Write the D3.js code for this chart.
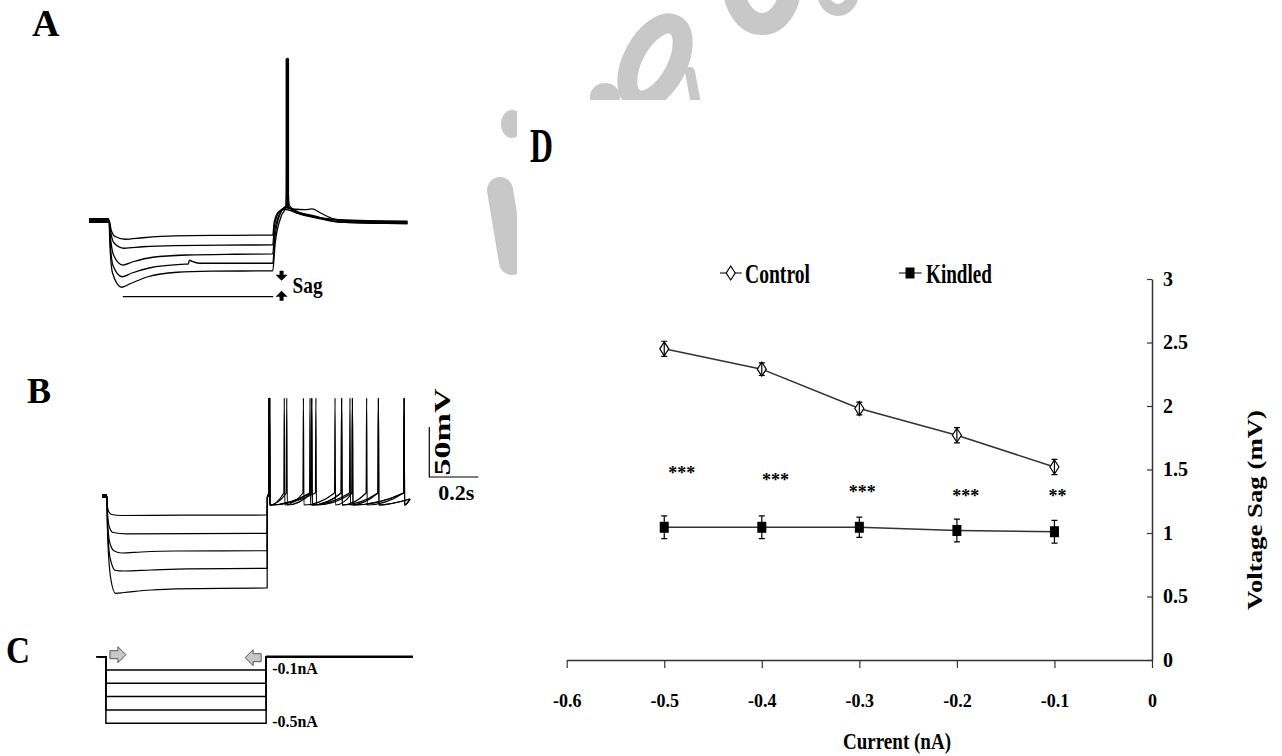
<!DOCTYPE html>
<html>
<head>
<meta charset="utf-8">
<script src="https://cdn.jsdelivr.net/npm/d3@7"></script>
<style>
  body { margin: 0; background: #fff; }
  svg { display: block; }
  text { font-family: "Liberation Serif", "Times New Roman", serif; font-weight: bold; }
</style>
</head>
<body>
<div id="fig"></div>
<script>
// ---- panel D: voltage sag vs injected current ----
const currents = [-0.5, -0.4, -0.3, -0.2, -0.1];
const controlSag = [2.45, 2.29, 1.98, 1.77, 1.52];
const controlErr = [0.06, 0.05, 0.05, 0.06, 0.06];
const kindledSag = [1.045, 1.045, 1.045, 1.02, 1.01];
const kindledErr = [0.09, 0.09, 0.08, 0.09, 0.09];
const sigLabels = ["***", "***", "***", "***", "**"];
const sigX = [-0.482, -0.386, -0.297, -0.191, -0.097];
const sigY = [1.50, 1.45, 1.35, 1.32, 1.32];
const xTicks = [-0.6, -0.5, -0.4, -0.3, -0.2, -0.1, 0];
const xTickLabels = ["-0.6", "-0.5", "-0.4", "-0.3", "-0.2", "-0.1", "0"];
const yTicks = [0, 0.5, 1, 1.5, 2, 2.5, 3];
const yTickLabels = ["0", "0.5", "1", "1.5", "2", "2.5", "3"];

// ---- panel A: sag traces, [time ms, membrane potential mV] ----
const restA = -65;
const stepOnA = 82;
const sagTracesA = [
  [[0,-65],[82,-65],[90,-71],[105,-75.5],[147,-77.5],[220,-76.5],[350,-75.3],[550,-74.9],[750,-74.7],
   [756,-66],[775,-59],[800,-57.5],[840,-59.5],[920,-62.5],[1020,-64.5],[1300,-65.5]],
  [[0,-65],[82,-65],[88,-72],[102,-80],[143,-83.5],[220,-82.5],[350,-81.7],[550,-81.4],[750,-81.3],
   [757,-68],[778,-59],[805,-56.5],[845,-59],[930,-63],[1030,-65],[1300,-66]],
  [[0,-65],[82,-65],[87,-75],[100,-88],[138,-94.7],[180,-92.5],[260,-89.5],[400,-88],[600,-87.5],[750,-87.3],
   [758,-72],[780,-60],[805,-56],[840,-57.5],[880,-57.8],[910,-57.3],[945,-60],[1000,-64],[1100,-66],[1300,-66.5]],
  [[0,-65],[82,-65],[86,-78],[98,-95],[135,-102.5],[175,-100],[250,-96.5],[380,-94.2],[405,-94],[410,-91.5],
   [420,-92.2],[450,-93.5],[600,-93.5],[750,-93.5],
   [759,-76],[782,-60],[808,-55.5],[835,-59],[920,-63],[1020,-66],[1300,-67]],
  [[0,-65],[82,-65],[85,-80],[96,-100],[133,-109.5],[170,-107],[240,-102.5],[360,-99.5],[500,-98.8],[750,-98.5],
   [760,-80],[785,-62],[803,-56],[806,-45],[808,43],[811,43],[813,-45],[818,-55],[845,-58.5],[920,-62],[1020,-66],[1300,-67]]
];
const spikeTimeA = 809.5;
const spikePeakA = 43;
const sagLevelA = -115.8;
const sagSpanA = [138, 752];
const sagMarkTimeA = 786;

// ---- panel B: hyperpolarising steps then rebound firing ----
const restB = -65;
const stepOnB = 20;
const stepOffB = 674;
const endB = 1257;
const hyperTracesB = [
  [[0,-65],[20,-65],[22,-75],[28,-81],[40,-83.5],[80,-84.5],[200,-84.3],[674,-84]],
  [[0,-65],[20,-65],[22,-80],[30,-96],[45,-101.5],[100,-102.8],[674,-102.3]],
  [[0,-65],[20,-65],[22,-88],[32,-112],[50,-120],[80,-122],[160,-121],[300,-120],[674,-119.7]],
  [[0,-65],[20,-65],[22,-95],[34,-128],[55,-139.5],[90,-140],[200,-139],[350,-137.8],[674,-137.3]],
  [[0,-65],[20,-65],[23,-105],[36,-148],[55,-162.3],[90,-161.5],[200,-159],[300,-157.8],[674,-157]]
];
const spikeTimesB = [
  [683, 754, 856, 978, 1080, 1233],
  [683, 744, 822, 951, 1022, 1233],
  [683, 849, 1012, 1128],
  [683, 873, 1022, 1233],
  [683, 856, 978, 1128]
];
const spikePeakB = 33;
const thresholdB = -62;
const ahpB = -74;

// ---- panel C: injected current steps (nA) ----
const stepAmps = [-0.1, -0.2, -0.3, -0.4, -0.5];
const startC = -18;
const stepOnC = 20;
const stepOffC = 674;
const endC = 1273;

const W = 1282, H = 756;
const black = "#000";
const serif = '"Liberation Serif", "Times New Roman", serif';

const svg = d3.select("#fig").append("svg")
  .attr("width", W).attr("height", H);
svg.append("rect").attr("width", W).attr("height", H).attr("fill", "#fff");

// watermark remnants peeking between panels
const defs = svg.append("defs");
const clip = defs.append("clipPath").attr("id", "wmclip");
clip.append("rect").attr("x", 487).attr("y", 0).attr("width", 30).attr("height", H);
clip.append("rect").attr("x", 517).attr("y", 0).attr("width", W - 517).attr("height", 100);
const wm = svg.append("g").attr("clip-path", "url(#wmclip)");
const wmGray = "#c8c8c8";
wm.append("ellipse").attr("cx", 512).attr("cy", 124).attr("rx", 11).attr("ry", 14).attr("fill", wmGray);
wm.append("line").attr("x1", 500).attr("y1", 190).attr("x2", 512).attr("y2", 262)
  .attr("stroke", wmGray).attr("stroke-width", 26).attr("stroke-linecap", "round");
wm.append("ellipse").attr("cx", 605).attr("cy", 97).attr("rx", 15).attr("ry", 14).attr("fill", wmGray);
wm.append("ellipse").attr("cx", 655).attr("cy", 62).attr("rx", 22).attr("ry", 42)
  .attr("transform", "rotate(28,655,62)")
  .attr("fill", "none").attr("stroke", wmGray).attr("stroke-width", 20);
wm.append("line").attr("x1", 690).attr("y1", 72).attr("x2", 696).attr("y2", 104)
  .attr("stroke", wmGray).attr("stroke-width", 10).attr("stroke-linecap", "round");
wm.append("ellipse").attr("cx", 762).attr("cy", -14).attr("rx", 28).attr("ry", 38)
  .attr("fill", "none").attr("stroke", wmGray).attr("stroke-width", 22);
wm.append("ellipse").attr("cx", 838).attr("cy", -8).attr("rx", 15).attr("ry", 18)
  .attr("fill", "none").attr("stroke", wmGray).attr("stroke-width", 12);

// panel letters
function panelLetter(txt, x, y, size, len) {
  const t = svg.append("text").attr("x", x).attr("y", y)
    .attr("font-size", size).attr("fill", black).text(txt);
  if (len) t.attr("textLength", len).attr("lengthAdjust", "spacingAndGlyphs");
}
panelLetter("A", 32, 36, 38);
panelLetter("B", 27, 403, 36);
panelLetter("C", 6, 663, 38, 24);
panelLetter("D", 530, 162, 48, 23);

// ================= panel A =================
const xA = d3.scaleLinear().domain([0, 1300]).range([89, 407.5]);
const yA = d3.scaleLinear().domain([-65, 43]).range([220.5, 58.5]);
const gA = svg.append("g");
const lineA = d3.line().x(d => xA(d[0])).y(d => yA(d[1])).curve(d3.curveMonotoneX);

gA.append("path")
  .attr("d", d3.line()([[xA(0), yA(restA)], [xA(stepOnA), yA(restA)]]))
  .attr("stroke", black).attr("stroke-width", 5);

gA.selectAll("path.trace")
  .data(sagTracesA)
  .join("path")
  .attr("class", "trace")
  .attr("d", lineA)
  .attr("fill", "none")
  .attr("stroke", black)
  .attr("stroke-width", 1.3);

// rebound spike drawn heavy, as in the overlaid recordings
gA.append("line")
  .attr("x1", xA(spikeTimeA)).attr("x2", xA(spikeTimeA))
  .attr("y1", yA(spikePeakA)).attr("y2", yA(-56))
  .attr("stroke", black).attr("stroke-width", 3.5);

// sag reference line and arrows
gA.append("line")
  .attr("x1", xA(sagSpanA[0])).attr("x2", xA(sagSpanA[1]))
  .attr("y1", yA(sagLevelA)).attr("y2", yA(sagLevelA))
  .attr("stroke", black).attr("stroke-width", 1.2);
const ax = xA(sagMarkTimeA);
const topDown = yA(sagTracesA[4][9][1]);
gA.append("path")
  .attr("d", `M${ax - 2},${topDown} V${topDown + 4} H${ax - 6} L${ax},${topDown + 10} L${ax + 6},${topDown + 4} H${ax + 2} V${topDown} Z`)
  .attr("fill", black);
const botUp = yA(sagLevelA) + 4;
gA.append("path")
  .attr("d", `M${ax - 2},${botUp} V${botUp - 4} H${ax - 6} L${ax},${botUp - 10} L${ax + 6},${botUp - 4} H${ax + 2} V${botUp} Z`)
  .attr("fill", black);
gA.append("text").attr("x", ax + 11).attr("y", 293)
  .attr("font-size", 23).attr("textLength", 30).attr("lengthAdjust", "spacingAndGlyphs")
  .text("Sag");

// ================= panel B =================
const xB = d3.scaleLinear().domain([0, endB]).range([102, 410]);
const yB = d3.scaleLinear().domain([-65, 33]).range([496, 398]);
const gB = svg.append("g");

gB.append("path")
  .attr("d", d3.line()([[xB(0), yB(restB)], [xB(stepOnB), yB(restB)]]))
  .attr("stroke", black).attr("stroke-width", 4);

// hyperpolarised segment + rebound segment built from spike times
const tracesB = hyperTracesB.map((seg, i) => {
  const pts = seg.slice();
  pts.push([stepOffB + 1, -66]);
  let prev = stepOffB + 1;
  spikeTimesB[i].forEach(s => {
    if (s - 2 > prev) pts.push([s - 2, thresholdB]);
    pts.push([s, spikePeakB]);
    pts.push([s + 2, ahpB]);
    prev = s + 2;
  });
  pts.push([endB, -68]);
  return pts;
});

gB.selectAll("path.trace")
  .data(tracesB)
  .join("path")
  .attr("class", "trace")
  .attr("d", d => d3.line().x(p => xB(p[0])).y(p => yB(p[1])).curve(d3.curveMonotoneX)(d))
  .attr("fill", "none")
  .attr("stroke", black)
  .attr("stroke-width", 1.2);

// first rebound spike is shared by all traces -> thick
gB.append("line")
  .attr("x1", xB(spikeTimesB[0][0])).attr("x2", xB(spikeTimesB[0][0]))
  .attr("y1", yB(spikePeakB)).attr("y2", yB(-66))
  .attr("stroke", black).attr("stroke-width", 2.5);

// scale bar: 50 mV / 0.2 s
const sbX = 429.3, sbY = 477;
const sbH = yB(restB) - yB(restB + 50);
const sbW = xB(200) - xB(0);
gB.append("path")
  .attr("d", `M${sbX},${sbY - sbH} V${sbY} H${sbX + sbW}`)
  .attr("fill", "none").attr("stroke", black).attr("stroke-width", 1.2);
gB.append("text")
  .attr("transform", `translate(${sbX + 21},${sbY - 45}) rotate(-90)`)
  .attr("text-anchor", "middle")
  .attr("font-size", 24).attr("textLength", 87).attr("lengthAdjust", "spacingAndGlyphs")
  .text("50mV");
gB.append("text").attr("x", sbX + 9).attr("y", 500)
  .attr("font-size", 22).text("0.2s");

// ================= panel C =================
const xC = d3.scaleLinear().domain([startC, endC]).range([96.6, 412.9]);
const yC = d3.scaleLinear().domain([0, -0.5]).range([656.7, 723.2]);
const gC = svg.append("g");
const tracesC = stepAmps.map(a => [[startC, 0], [stepOnC, 0], [stepOnC, a], [stepOffC, a], [stepOffC, 0], [endC, 0]]);
gC.selectAll("path.trace")
  .data(tracesC)
  .join("path")
  .attr("class", "trace")
  .attr("d", d3.line().x(d => xC(d[0])).y(d => yC(d[1])))
  .attr("fill", "none")
  .attr("stroke", black)
  .attr("stroke-width", 1.5);
gC.append("line")
  .attr("x1", xC(stepOffC)).attr("x2", xC(endC))
  .attr("y1", yC(0)).attr("y2", yC(0))
  .attr("stroke", black).attr("stroke-width", 2.5);

// gray block arrows marking step on / off
const arrowPath = "M0,-4 H8 V-8 L16,0 L8,8 V4 H0 Z";
gC.append("path").attr("d", arrowPath)
  .attr("transform", `translate(${xC(stepOnC) + 4},${yC(0) - 2})`)
  .attr("fill", "#c8c8c8").attr("stroke", "#555").attr("stroke-width", 1);
gC.append("path").attr("d", arrowPath)
  .attr("transform", `translate(${xC(stepOffC) - 5},${yC(0) + 1}) scale(-1,1)`)
  .attr("fill", "#c8c8c8").attr("stroke", "#555").attr("stroke-width", 1);

gC.append("text").attr("x", xC(stepOffC) + 6).attr("y", yC(stepAmps[0]) + 4)
  .attr("font-size", 16).text("-0.1nA");
gC.append("text").attr("x", xC(stepOffC) + 6).attr("y", yC(stepAmps[4]) + 4)
  .attr("font-size", 16).text("-0.5nA");

// ================= panel D =================
const xD = d3.scaleLinear().domain([-0.6, 0]).range([566.7, 1152]);
const yD = d3.scaleLinear().domain([0, 3]).range([660, 279]);
const gD = svg.append("g");
const axisColor = "#333";

gD.append("g")
  .attr("transform", `translate(0,${yD(0)})`)
  .call(d3.axisBottom(xD).tickValues(xTicks).tickFormat((d, i) => xTickLabels[i])
    .tickSizeInner(8).tickSizeOuter(0).tickPadding(26))
  .call(g => {
    g.attr("font-family", serif).attr("font-size", 18).attr("font-weight", "bold");
    g.select(".domain").attr("stroke", axisColor).attr("stroke-width", 1.5);
    g.selectAll(".tick line").attr("stroke", axisColor).attr("stroke-width", 1.2);
    g.selectAll(".tick text").attr("fill", black);
  });

gD.append("g")
  .attr("transform", `translate(${xD(0)},0)`)
  .call(d3.axisRight(yD).tickValues(yTicks).tickFormat((d, i) => yTickLabels[i])
    .tickSizeInner(-5).tickSizeOuter(0).tickPadding(11))
  .call(g => {
    g.attr("font-family", serif).attr("font-size", 20).attr("font-weight", "bold");
    g.select(".domain").attr("stroke", axisColor).attr("stroke-width", 1.5);
    g.selectAll(".tick line").attr("stroke", axisColor).attr("stroke-width", 1.2);
    g.selectAll(".tick text").attr("fill", black);
  });

// axis titles
gD.append("text")
  .attr("x", 843).attr("y", 749)
  .attr("font-size", 24).attr("textLength", 108).attr("lengthAdjust", "spacingAndGlyphs")
  .text("Current (nA)");
gD.append("text")
  .attr("transform", "translate(1262,510) rotate(-90)")
  .attr("text-anchor", "middle")
  .attr("font-size", 22).attr("textLength", 200).attr("lengthAdjust", "spacingAndGlyphs")
  .text("Voltage Sag (mV)");

const lineD = d3.line().x((d, i) => xD(currents[i])).y(d => yD(d));
gD.append("path").attr("d", lineD(kindledSag))
  .attr("fill", "none").attr("stroke", "#333").attr("stroke-width", 1.5);
gD.append("path").attr("d", lineD(controlSag))
  .attr("fill", "none").attr("stroke", "#333").attr("stroke-width", 1.5);

const diamond = "M0,-7 L4.5,0 L0,7 L-4.5,0 Z";
gD.selectAll("path.ctl")
  .data(controlSag)
  .join("path")
  .attr("class", "ctl")
  .attr("d", diamond)
  .attr("transform", (d, i) => `translate(${xD(currents[i])},${yD(d)})`)
  .attr("fill", "#fff").attr("stroke", black).attr("stroke-width", 1.2);

gD.selectAll("rect.kin")
  .data(kindledSag)
  .join("rect")
  .attr("class", "kin")
  .attr("x", (d, i) => xD(currents[i]) - 4.5)
  .attr("y", d => yD(d) - 5.5)
  .attr("width", 9).attr("height", 11)
  .attr("fill", black);

function errorBars(vals, errs, cls) {
  const g = gD.append("g").attr("stroke", black).attr("stroke-width", 1.2).attr("fill", "none");
  g.selectAll("path." + cls)
    .data(vals)
    .join("path")
    .attr("class", cls)
    .attr("d", (d, i) => {
      const x = xD(currents[i]);
      const y0 = yD(d - errs[i]), y1 = yD(d + errs[i]);
      return `M${x},${y0} V${y1} M${x - 3},${y0} H${x + 3} M${x - 3},${y1} H${x + 3}`;
    });
}
errorBars(controlSag, controlErr, "ectl");
errorBars(kindledSag, kindledErr, "ekin");

gD.selectAll("text.sig")
  .data(sigLabels)
  .join("text")
  .attr("class", "sig")
  .attr("x", (d, i) => xD(sigX[i]))
  .attr("y", (d, i) => yD(sigY[i]))
  .attr("dy", "0.55em")
  .attr("text-anchor", "middle")
  .attr("font-size", 18)
  .attr("font-weight", "normal")
  .text(d => d);

// legend
const legY = 273;
gD.append("line").attr("x1", 720).attr("x2", 741.7).attr("y1", legY).attr("y2", legY)
  .attr("stroke", "#333").attr("stroke-width", 1.3);
gD.append("path").attr("d", diamond).attr("transform", `translate(730.7,${legY})`)
  .attr("fill", "#fff").attr("stroke", black).attr("stroke-width", 1.2);
gD.append("text").attr("x", 745).attr("y", 283)
  .attr("font-size", 28).attr("textLength", 65).attr("lengthAdjust", "spacingAndGlyphs")
  .text("Control");
gD.append("line").attr("x1", 899).attr("x2", 921.7).attr("y1", legY).attr("y2", legY)
  .attr("stroke", "#333").attr("stroke-width", 1.3);
gD.append("rect").attr("x", 910 - 4.5).attr("y", legY - 5.5).attr("width", 9).attr("height", 11)
  .attr("fill", black);
gD.append("text").attr("x", 926).attr("y", 283)
  .attr("font-size", 28).attr("textLength", 66).attr("lengthAdjust", "spacingAndGlyphs")
  .text("Kindled");
</script>
</body>
</html>
